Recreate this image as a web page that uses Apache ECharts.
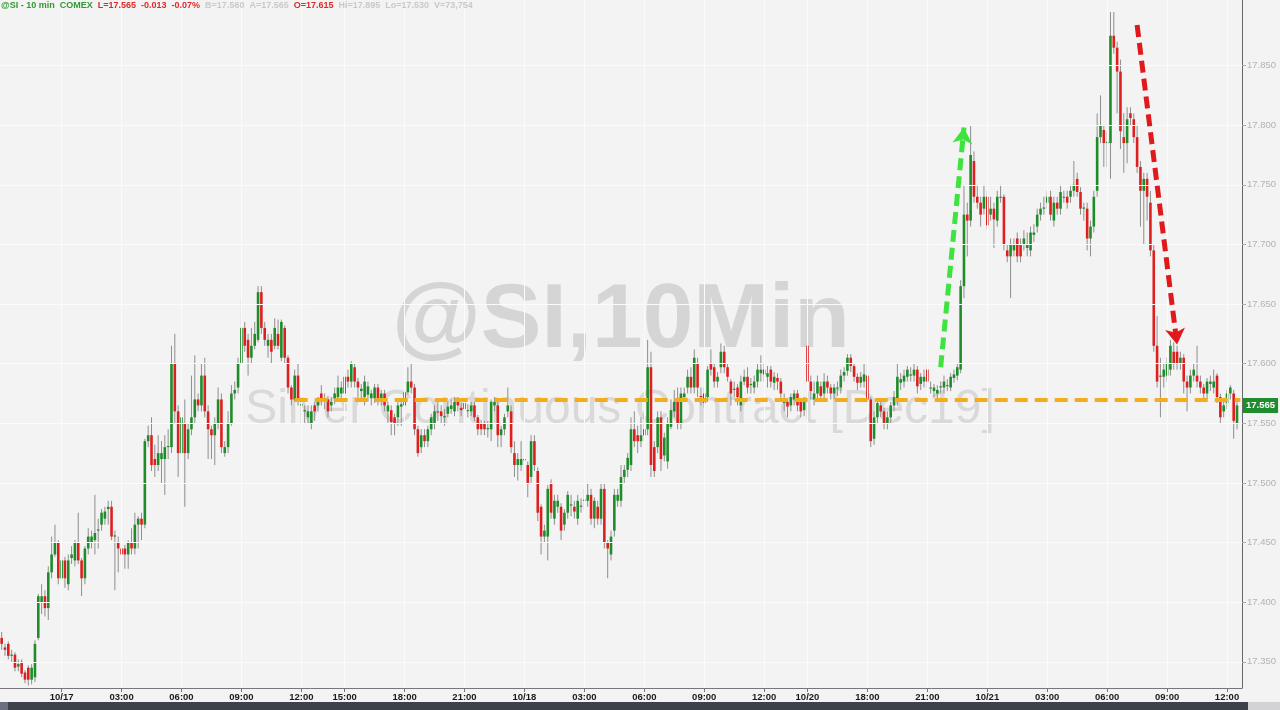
<!DOCTYPE html>
<html>
<head>
<meta charset="utf-8">
<script src="https://cdn.jsdelivr.net/npm/echarts@6/dist/echarts.min.js"></script>
<style>
html,body{margin:0;padding:0;background:#f3f3f4;}
#chart{width:1280px;height:710px;}
</style>
</head>
<body>
<div id="chart"></div>
<script>
// ---- tick labels (category index -> label) ----
const tickIndex  = [18, 36, 54, 72, 90, 103, 121, 139, 157, 175, 193, 211, 229, 242, 260, 278, 296, 314, 332, 350, 368];
const tickLabels = ['10/17','03:00','06:00','09:00','12:00','15:00','18:00','21:00','10/18','03:00','06:00','09:00','12:00','10/20','18:00','21:00','10/21','03:00','06:00','09:00','12:00'];
const yTicks = [17.35, 17.40, 17.45, 17.50, 17.55, 17.60, 17.65, 17.70, 17.75, 17.80, 17.85];
const categoryCount = 373;

// ---- 10-min candles: [open, close, low, high] ----
const candles = [
[17.370,17.365,17.360,17.375],[17.362,17.360,17.355,17.365],[17.365,17.355,17.352,17.367],[17.355,17.356,17.350,17.360],
[17.356,17.345,17.342,17.358],[17.346,17.348,17.342,17.352],[17.350,17.340,17.337,17.352],[17.341,17.335,17.332,17.343],
[17.345,17.335,17.330,17.347],[17.335,17.345,17.331,17.348],[17.337,17.365,17.333,17.368],[17.370,17.405,17.368,17.407],
[17.400,17.405,17.390,17.415],[17.405,17.395,17.388,17.410],[17.395,17.425,17.385,17.430],[17.425,17.440,17.420,17.455],
[17.440,17.450,17.438,17.465],[17.450,17.420,17.415,17.452],[17.420,17.435,17.418,17.440],[17.435,17.420,17.412,17.438],
[17.415,17.435,17.410,17.440],[17.437,17.440,17.432,17.447],[17.435,17.450,17.430,17.452],[17.450,17.435,17.432,17.475],
[17.435,17.420,17.405,17.437],[17.420,17.445,17.415,17.447],[17.445,17.455,17.440,17.462],[17.450,17.455,17.445,17.460],
[17.452,17.458,17.440,17.490],[17.460,17.461,17.445,17.470],[17.465,17.475,17.460,17.478],[17.470,17.476,17.465,17.480],
[17.478,17.480,17.465,17.485],[17.480,17.455,17.452,17.485],[17.455,17.456,17.410,17.460],[17.450,17.445,17.425,17.455],
[17.445,17.440,17.420,17.448],[17.445,17.440,17.428,17.448],[17.440,17.450,17.428,17.452],[17.450,17.445,17.440,17.462],
[17.445,17.465,17.440,17.475],[17.465,17.470,17.445,17.472],[17.470,17.465,17.452,17.475],[17.465,17.535,17.462,17.537],
[17.535,17.540,17.530,17.548],[17.540,17.515,17.510,17.555],[17.520,17.515,17.505,17.532],[17.515,17.525,17.510,17.540],
[17.520,17.525,17.500,17.535],[17.520,17.530,17.490,17.540],[17.530,17.531,17.520,17.545],[17.530,17.600,17.525,17.615],
[17.600,17.560,17.550,17.625],[17.560,17.525,17.505,17.565],[17.525,17.555,17.520,17.560],[17.550,17.525,17.480,17.570],
[17.525,17.545,17.520,17.550],[17.545,17.555,17.540,17.590],[17.555,17.570,17.550,17.607],[17.570,17.565,17.560,17.575],
[17.565,17.590,17.560,17.600],[17.590,17.560,17.555,17.605],[17.560,17.545,17.520,17.565],[17.545,17.540,17.520,17.548],
[17.540,17.550,17.515,17.555],[17.550,17.570,17.545,17.580],[17.570,17.530,17.525,17.575],[17.525,17.530,17.522,17.535],
[17.530,17.550,17.525,17.560],[17.550,17.575,17.548,17.582],[17.575,17.578,17.570,17.585],[17.580,17.600,17.575,17.605],
[17.600,17.630,17.598,17.655],[17.630,17.615,17.610,17.635],[17.620,17.605,17.590,17.625],[17.605,17.615,17.600,17.630],
[17.615,17.625,17.612,17.635],[17.620,17.660,17.618,17.665],[17.660,17.630,17.625,17.665],[17.630,17.620,17.615,17.635],
[17.615,17.620,17.605,17.625],[17.620,17.610,17.600,17.625],[17.615,17.630,17.612,17.638],[17.625,17.615,17.612,17.637],
[17.605,17.635,17.602,17.637],[17.630,17.605,17.600,17.632],[17.605,17.580,17.575,17.607],[17.580,17.570,17.565,17.582],
[17.570,17.590,17.568,17.595],[17.590,17.570,17.565,17.600],[17.565,17.566,17.550,17.570],[17.560,17.561,17.550,17.565],
[17.555,17.560,17.550,17.565],[17.550,17.560,17.545,17.565],[17.565,17.560,17.552,17.568],[17.565,17.568,17.560,17.572],
[17.575,17.571,17.565,17.582],[17.568,17.571,17.562,17.575],[17.570,17.560,17.555,17.573],[17.565,17.568,17.560,17.572],
[17.571,17.575,17.566,17.580],[17.572,17.580,17.568,17.590],[17.575,17.580,17.570,17.585],[17.575,17.589,17.572,17.592],
[17.589,17.585,17.580,17.595],[17.585,17.600,17.580,17.602],[17.597,17.585,17.580,17.600],[17.585,17.580,17.570,17.588],
[17.577,17.579,17.570,17.583],[17.572,17.585,17.565,17.590],[17.574,17.581,17.568,17.585],[17.571,17.575,17.565,17.578],
[17.571,17.580,17.567,17.583],[17.580,17.570,17.565,17.583],[17.571,17.575,17.565,17.578],[17.575,17.565,17.560,17.578],
[17.560,17.565,17.550,17.568],[17.561,17.551,17.540,17.565],[17.555,17.550,17.540,17.558],[17.555,17.565,17.548,17.568],
[17.564,17.566,17.548,17.570],[17.565,17.576,17.562,17.578],[17.576,17.585,17.574,17.597],[17.585,17.580,17.575,17.600],
[17.580,17.545,17.540,17.583],[17.545,17.525,17.522,17.548],[17.530,17.540,17.525,17.545],[17.540,17.535,17.530,17.545],
[17.535,17.545,17.530,17.548],[17.545,17.555,17.540,17.558],[17.550,17.560,17.545,17.565],[17.560,17.559,17.552,17.570],
[17.560,17.556,17.550,17.565],[17.555,17.556,17.548,17.562],[17.558,17.564,17.555,17.568],[17.562,17.565,17.558,17.570],
[17.560,17.568,17.556,17.572],[17.568,17.565,17.560,17.572],[17.563,17.561,17.556,17.567],[17.562,17.567,17.558,17.570],
[17.561,17.561,17.555,17.566],[17.560,17.565,17.556,17.568],[17.565,17.555,17.552,17.568],[17.555,17.545,17.540,17.557],
[17.550,17.545,17.540,17.553],[17.550,17.545,17.540,17.552],[17.545,17.546,17.538,17.552],[17.545,17.568,17.535,17.570],
[17.565,17.568,17.560,17.572],[17.565,17.540,17.530,17.568],[17.540,17.545,17.530,17.548],[17.545,17.555,17.540,17.558],
[17.560,17.565,17.555,17.580],[17.560,17.530,17.525,17.565],[17.525,17.515,17.505,17.535],[17.515,17.520,17.502,17.525],
[17.515,17.520,17.510,17.535],[17.520,17.519,17.505,17.522],[17.515,17.500,17.488,17.518],[17.505,17.535,17.500,17.540],
[17.535,17.515,17.510,17.540],[17.510,17.475,17.468,17.513],[17.480,17.455,17.440,17.482],[17.455,17.460,17.450,17.465],
[17.455,17.495,17.435,17.498],[17.500,17.475,17.470,17.503],[17.470,17.485,17.465,17.490],[17.480,17.485,17.475,17.490],
[17.480,17.460,17.452,17.483],[17.465,17.475,17.460,17.478],[17.475,17.490,17.470,17.493],[17.481,17.482,17.472,17.490],
[17.480,17.476,17.470,17.485],[17.470,17.485,17.465,17.490],[17.480,17.481,17.475,17.487],[17.485,17.486,17.478,17.495],
[17.485,17.490,17.480,17.500],[17.490,17.470,17.465,17.495],[17.470,17.485,17.462,17.488],[17.480,17.470,17.465,17.485],
[17.470,17.495,17.465,17.500],[17.495,17.450,17.445,17.500],[17.450,17.445,17.420,17.452],[17.440,17.455,17.435,17.460],
[17.460,17.490,17.455,17.495],[17.485,17.490,17.480,17.495],[17.485,17.505,17.480,17.515],[17.505,17.511,17.500,17.515],
[17.511,17.521,17.505,17.525],[17.515,17.545,17.510,17.555],[17.545,17.535,17.530,17.560],[17.540,17.535,17.525,17.548],
[17.535,17.540,17.530,17.555],[17.540,17.545,17.535,17.560],[17.545,17.597,17.540,17.620],[17.597,17.515,17.505,17.610],
[17.530,17.510,17.505,17.535],[17.530,17.555,17.525,17.560],[17.555,17.520,17.510,17.560],[17.523,17.538,17.518,17.542],
[17.518,17.550,17.512,17.555],[17.547,17.561,17.545,17.570],[17.560,17.568,17.555,17.578],[17.571,17.550,17.545,17.580],
[17.550,17.575,17.545,17.580],[17.572,17.575,17.568,17.580],[17.580,17.589,17.575,17.595],[17.589,17.580,17.575,17.597],
[17.580,17.605,17.575,17.612],[17.600,17.580,17.572,17.605],[17.573,17.572,17.565,17.580],[17.575,17.567,17.563,17.580],
[17.572,17.595,17.568,17.598],[17.600,17.595,17.590,17.612],[17.597,17.585,17.580,17.600],[17.585,17.589,17.580,17.593],
[17.597,17.610,17.592,17.617],[17.610,17.597,17.592,17.615],[17.597,17.589,17.585,17.600],[17.585,17.575,17.565,17.587],
[17.578,17.579,17.572,17.585],[17.580,17.572,17.565,17.583],[17.565,17.585,17.560,17.590],[17.585,17.589,17.582,17.595],
[17.589,17.580,17.575,17.597],[17.582,17.583,17.575,17.588],[17.580,17.585,17.575,17.590],[17.585,17.595,17.580,17.600],
[17.592,17.595,17.585,17.607],[17.595,17.591,17.585,17.600],[17.589,17.592,17.580,17.598],[17.595,17.585,17.580,17.598],
[17.584,17.589,17.578,17.593],[17.588,17.585,17.578,17.592],[17.585,17.575,17.570,17.588],[17.568,17.568,17.560,17.575],
[17.568,17.564,17.555,17.570],[17.565,17.572,17.560,17.575],[17.570,17.575,17.565,17.578],[17.575,17.565,17.560,17.578],
[17.568,17.560,17.555,17.570],[17.561,17.568,17.556,17.572],[17.615,17.585,17.580,17.617],[17.585,17.577,17.570,17.590],
[17.570,17.575,17.565,17.585],[17.575,17.585,17.570,17.590],[17.581,17.573,17.568,17.585],[17.575,17.585,17.570,17.592],
[17.585,17.580,17.575,17.590],[17.580,17.575,17.570,17.583],[17.575,17.580,17.570,17.583],[17.580,17.580,17.573,17.585],
[17.580,17.590,17.575,17.595],[17.590,17.593,17.585,17.597],[17.594,17.605,17.590,17.608],[17.605,17.598,17.593,17.608],
[17.598,17.589,17.585,17.600],[17.589,17.584,17.578,17.592],[17.584,17.589,17.580,17.593],[17.585,17.591,17.580,17.600],
[17.590,17.570,17.565,17.600],[17.570,17.535,17.530,17.572],[17.537,17.555,17.532,17.560],[17.555,17.567,17.550,17.570],
[17.565,17.560,17.555,17.568],[17.560,17.550,17.545,17.563],[17.550,17.555,17.545,17.560],[17.555,17.565,17.550,17.568],
[17.565,17.572,17.560,17.577],[17.570,17.589,17.565,17.600],[17.584,17.587,17.578,17.592],[17.585,17.590,17.580,17.595],
[17.589,17.595,17.585,17.598],[17.590,17.591,17.585,17.597],[17.590,17.595,17.585,17.600],[17.595,17.581,17.575,17.598],
[17.583,17.589,17.578,17.592],[17.585,17.589,17.580,17.595],[17.595,17.585,17.580,17.598],[17.580,17.580,17.575,17.585],
[17.577,17.580,17.572,17.583],[17.575,17.578,17.570,17.582],[17.580,17.581,17.575,17.585],[17.580,17.585,17.575,17.590],
[17.582,17.582,17.577,17.587],[17.580,17.589,17.577,17.592],[17.588,17.591,17.584,17.595],[17.590,17.597,17.586,17.600],
[17.595,17.665,17.592,17.670],[17.665,17.725,17.655,17.750],[17.725,17.720,17.690,17.735],[17.720,17.775,17.715,17.800],
[17.770,17.740,17.735,17.778],[17.740,17.735,17.730,17.750],[17.735,17.725,17.715,17.740],[17.730,17.740,17.725,17.750],
[17.740,17.716,17.712,17.745],[17.725,17.730,17.720,17.740],[17.730,17.721,17.697,17.735],[17.720,17.740,17.715,17.745],
[17.740,17.740,17.735,17.750],[17.740,17.700,17.695,17.742],[17.695,17.690,17.685,17.700],[17.690,17.700,17.655,17.705],
[17.695,17.700,17.690,17.705],[17.705,17.690,17.685,17.710],[17.700,17.690,17.685,17.705],[17.700,17.705,17.695,17.712],
[17.697,17.700,17.690,17.710],[17.695,17.710,17.690,17.715],[17.708,17.710,17.702,17.717],[17.715,17.725,17.710,17.730],
[17.725,17.730,17.720,17.735],[17.730,17.731,17.725,17.740],[17.735,17.740,17.730,17.745],[17.740,17.725,17.720,17.745],
[17.720,17.735,17.715,17.740],[17.735,17.730,17.725,17.740],[17.730,17.744,17.725,17.750],[17.740,17.740,17.735,17.745],
[17.740,17.735,17.730,17.745],[17.740,17.745,17.735,17.750],[17.745,17.750,17.740,17.770],[17.755,17.744,17.740,17.760],
[17.744,17.730,17.725,17.748],[17.730,17.731,17.720,17.735],[17.730,17.705,17.695,17.735],[17.705,17.715,17.690,17.720],
[17.715,17.740,17.710,17.745],[17.745,17.790,17.740,17.810],[17.790,17.800,17.785,17.825],[17.796,17.785,17.765,17.800],
[17.785,17.786,17.765,17.795],[17.785,17.875,17.755,17.895],[17.875,17.865,17.860,17.895],[17.865,17.845,17.810,17.870],
[17.845,17.795,17.780,17.855],[17.790,17.785,17.760,17.810],[17.785,17.805,17.768,17.815],[17.810,17.806,17.800,17.815],
[17.805,17.790,17.785,17.810],[17.790,17.765,17.760,17.800],[17.765,17.745,17.715,17.770],[17.745,17.755,17.700,17.760],
[17.755,17.740,17.720,17.760],[17.735,17.695,17.690,17.745],[17.695,17.615,17.610,17.700],[17.615,17.585,17.580,17.640],
[17.590,17.589,17.555,17.605],[17.589,17.595,17.580,17.600],[17.590,17.600,17.585,17.605],[17.595,17.615,17.590,17.620],
[17.610,17.600,17.595,17.618],[17.610,17.600,17.595,17.615],[17.600,17.605,17.595,17.610],[17.605,17.585,17.575,17.608],
[17.585,17.580,17.560,17.590],[17.580,17.590,17.575,17.595],[17.590,17.595,17.585,17.600],[17.590,17.585,17.580,17.615],
[17.585,17.580,17.575,17.590],[17.580,17.575,17.570,17.583],[17.575,17.585,17.570,17.588],[17.583,17.585,17.577,17.590],
[17.580,17.585,17.575,17.595],[17.590,17.572,17.567,17.592],[17.572,17.555,17.550,17.575],[17.560,17.565,17.555,17.568],
[17.567,17.575,17.562,17.578],[17.575,17.580,17.570,17.582],[17.575,17.552,17.537,17.578],[17.550,17.565,17.545,17.568]
];

// ---- annotations (data space) ----
const supportLevel = 17.570;
const supportFrom = 88, supportTo = 371.8;
const greenArrow = [[282, 17.597], [288.6, 17.798]];
const redArrow = [[341.4, 17.884], [352.6, 17.616]];
const lastPrice = 17.565;

// ---- header ----
const headerGreen = ['@SI - 10 min', 'COMEX'];
const headerRed = ['L=17.565', '-0.013', '-0.07%'];
const headerGray1 = ['B=17.560', 'A=17.565'];
const headerRed2 = ['O=17.615'];
const headerGray2 = ['Hi=17.895', 'Lo=17.530', 'V=73,754'];

const UP = '#1f8c2a', DOWN = '#de1f1f', WICK = '#8e8e8e';
const FONT = '"Liberation Sans", Arial, sans-serif';

const labelMap = {};
tickIndex.forEach((idx, k) => { labelMap[idx] = tickLabels[k]; });
const categories = Array.from({length: categoryCount}, (_, i) => String(i));
const candleData = candles.map((c, i) => [i, c[0], c[1], c[2], c[3]]);

function renderCandle(params, api) {
  const i = api.value(0);
  const o = api.value(1), c = api.value(2), l = api.value(3), h = api.value(4);
  const top = api.coord([i, Math.max(o, c)]);
  const bot = api.coord([i, Math.min(o, c)]);
  const hi = api.coord([i, h]);
  const lo = api.coord([i, l]);
  const w = api.size([1, 0])[0] * 0.78;
  const x = top[0];
  const color = c >= o ? UP : DOWN;
  return {
    type: 'group',
    children: [
      { type: 'line', shape: { x1: x, y1: hi[1], x2: x, y2: lo[1] }, style: { stroke: WICK, lineWidth: 1 } },
      { type: 'rect', shape: { x: x - w / 2, y: top[1], width: w, height: Math.max(1, bot[1] - top[1]) }, style: { fill: color } }
    ]
  };
}

const sp = '  ';
const headerText =
  '{g|' + headerGreen.join(sp) + '}' + sp +
  '{r|' + headerRed.join(sp) + '}' + sp +
  '{s|' + headerGray1.join(sp) + '}' + sp +
  '{r|' + headerRed2.join(sp) + '}' + sp +
  '{s|' + headerGray2.join(sp) + '}';

const chart = echarts.init(document.getElementById('chart'), null, { renderer: 'canvas' });
chart.setOption({
  animation: false,
  backgroundColor: '#f3f3f4',
  title: {
    text: headerText, left: 1, top: 1, padding: 0,
    textStyle: {
      fontFamily: FONT, fontSize: 9,
      rich: {
        g: { color: '#2f9a2f', fontWeight: 'bold', fontSize: 9, fontFamily: FONT },
        r: { color: '#dd2a2a', fontWeight: 'bold', fontSize: 9, fontFamily: FONT },
        s: { color: '#c9c9c9', fontWeight: 'bold', fontSize: 9, fontFamily: FONT }
      }
    }
  },
  graphic: [
    { type: 'text', z: 0, silent: true, style: { x: 621, y: 322, text: '@SI,10Min', fill: '#d5d5d5', font: 'bold 91px ' + FONT, textAlign: 'center', textVerticalAlign: 'middle' } },
    { type: 'text', z: 0, silent: true, style: { x: 620, y: 410, text: 'Silver Continuous Contract [Dec19]', fill: '#d9d9d9', font: '48px ' + FONT, textAlign: 'center', textVerticalAlign: 'middle' } },
    { type: 'rect', z: 10, silent: true, shape: { x: 0, y: 702, width: 1248, height: 8 }, style: { fill: '#3c414a' } },
    { type: 'rect', z: 10, silent: true, shape: { x: 0, y: 702, width: 8, height: 8 }, style: { fill: '#6a7080' } },
    { type: 'rect', z: 10, silent: true, shape: { x: 1248, y: 702, width: 32, height: 8 }, style: { fill: '#d3d3d6' } }
  ],
  grid: { left: 0, right: 38, top: 0, bottom: 22, containLabel: false },
  xAxis: {
    type: 'category',
    data: categories,
    boundaryGap: true,
    axisLine: { lineStyle: { color: '#777', width: 1 } },
    axisTick: { show: true, alignWithLabel: true, length: 4, lineStyle: { color: '#777' }, interval: (i) => labelMap[i] !== undefined },
    axisLabel: {
      interval: (i) => labelMap[i] !== undefined,
      formatter: (v, i) => labelMap[i] || '',
      color: '#1a1a1a', fontWeight: 'bold', fontSize: 9.5, fontFamily: FONT, margin: 4
    },
    splitLine: { show: false }
  },
  yAxis: {
    type: 'value',
    position: 'right',
    min: 17.328, max: 17.905,
    scale: true,
    axisLine: { show: true, lineStyle: { color: '#666', width: 1 } },
    axisTick: { show: true, length: 4, lineStyle: { color: '#aaa' }, customValues: yTicks },
    axisLabel: { customValues: yTicks, formatter: (v) => v.toFixed(3), color: '#b3b3b3', fontSize: 9.5, fontFamily: FONT, margin: 5 },
    splitLine: { show: false }
  },
  series: [
    {
      type: 'line', data: [], silent: true, z: 1,
      markLine: {
        silent: true, symbol: ['none', 'none'], animation: false,
        label: { show: false },
        lineStyle: { color: '#fbfbfb', width: 1, type: 'solid' },
        data: yTicks.map(v => ({ yAxis: v })).concat(tickIndex.map(i => ({ xAxis: i })))
      }
    },
    {
      type: 'custom', name: '@SI', renderItem: renderCandle, data: candleData, z: 3,
      encode: { x: 0, y: [1, 2, 3, 4] }, clip: true
    },
    {
      type: 'line', data: [], silent: true, z: 5,
      markLine: {
        silent: true, symbol: ['none', 'none'], animation: false, label: { show: false },
        lineStyle: { color: '#f2ad1d', width: 4, type: [13, 7], opacity: 1 },
        data: [[{ coord: [supportFrom, supportLevel] }, { coord: [supportTo, supportLevel] }]]
      }
    },
    {
      type: 'line', data: [], silent: true, z: 6,
      markLine: {
        silent: true, symbol: ['none', 'arrow'], symbolSize: [15, 16], animation: false, label: { show: false },
        lineStyle: { color: '#3fe33f', width: 5, type: [12, 6], opacity: 1 },
        data: [[{ coord: greenArrow[0] }, { coord: greenArrow[1] }]]
      }
    },
    {
      type: 'line', data: [], silent: true, z: 6,
      markLine: {
        silent: true, symbol: ['none', 'arrow'], symbolSize: [15, 16], animation: false, label: { show: false },
        lineStyle: { color: '#e01a1c', width: 5, type: [12, 6], opacity: 1 },
        data: [[{ coord: redArrow[0] }, { coord: redArrow[1] }]]
      }
    },
    {
      type: 'line', data: [], silent: true, z: 7,
      markLine: {
        silent: true, symbol: ['none', 'none'], animation: false,
        lineStyle: { color: 'rgba(0,0,0,0)', width: 0, opacity: 1 },
        label: {
          show: true, position: 'end', distance: 1, offset: [0, 6], formatter: lastPrice.toFixed(3),
          color: '#ffffff', backgroundColor: '#1f8c2e', fontWeight: 'bold', fontSize: 9.5, fontFamily: FONT,
          padding: [3, 3, 2, 3], opacity: 1
        },
        data: [{ yAxis: lastPrice }]
      }
    }
  ]
});
</script>
</body>
</html>
